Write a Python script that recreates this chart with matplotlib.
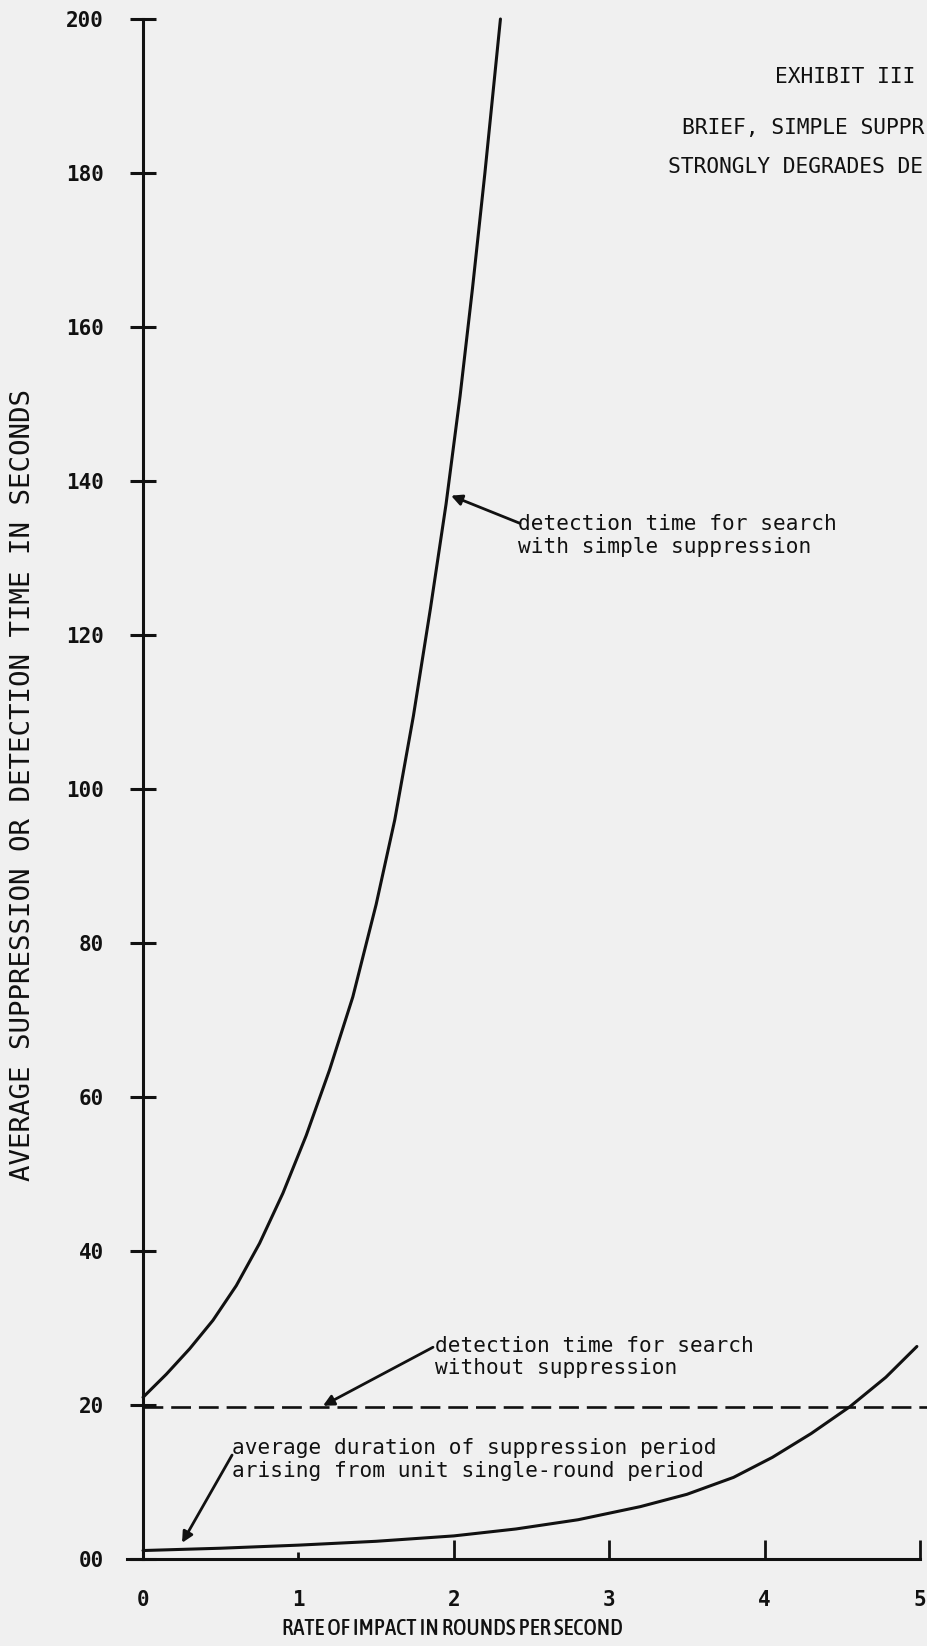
import matplotlib
matplotlib.use("Agg")
import matplotlib.pyplot as plt
from matplotlib import font_manager
from matplotlib.font_manager import FontProperties

# Detection time for search with simple suppression (seconds) vs rate of impact
rate_detect = [0.00, 0.15, 0.30, 0.45, 0.60, 0.75, 0.90, 1.05, 1.20, 1.35,
               1.50, 1.62, 1.74, 1.85, 1.95, 2.04, 2.12, 2.20, 2.26, 2.30]
time_detect = [21.0, 24.0, 27.3, 31.0, 35.5, 41.0, 47.5, 55.0, 63.5, 73.0,
               85.0, 96.0, 109.5, 123.5, 137.0, 151.0, 165.0, 180.0, 192.0, 200.0]

# Average duration of suppression period arising from unit single-round period
rate_supp = [0.00, 0.50, 1.00, 1.50, 2.00, 2.40, 2.80, 3.20, 3.50, 3.80,
             4.05, 4.30, 4.55, 4.78, 4.98]
time_supp = [1.1, 1.4, 1.8, 2.3, 3.0, 3.9, 5.1, 6.8, 8.4, 10.6,
             13.2, 16.3, 19.8, 23.6, 27.6]

# Detection time for search without suppression
rate_nosupp = [0.0, 5.05]
time_nosupp = [19.8, 19.8]

y_ticks = [0, 20, 40, 60, 80, 100, 120, 140, 160, 180, 200]
y_tick_labels = ["00", "20", "40", "60", "80", "100", "120", "140", "160", "180", "200"]
x_ticks = [0, 1, 2, 3, 4, 5]
x_tick_labels = ["0", "1", "2", "3", "4", "5"]

# Heading as it runs off the right edge of the page
title_lines = ["EXHIBIT III", "BRIEF, SIMPLE SUPPR", "STRONGLY DEGRADES DE"]

PAPER = "#f0f0f0"
INK = "#111111"
MONO = "DejaVu Sans Mono"


def pick_narrow_font():
    best = None
    weights = {"normal": 400, "regular": 400, "book": 400, "medium": 500,
               "semibold": 600, "demibold": 600, "bold": 700}
    for f in font_manager.fontManager.ttflist:
        stretch = str(f.stretch)
        narrow = ("Narrow" in f.name) or stretch in ("condensed", "semi-condensed", "extra-condensed")
        if not narrow or str(f.style) != "normal":
            continue
        w = f.weight if isinstance(f.weight, int) else weights.get(str(f.weight), 400)
        score = abs(w - 500) + (50 if stretch == "extra-condensed" else 0)
        if best is None or score < best[0]:
            best = (score, f.fname)
    if best is not None:
        return FontProperties(fname=best[1])
    return FontProperties(family="Roboto", weight="medium")


W, H = 928, 1646
fig = plt.figure(figsize=(W / 100, H / 100), dpi=100, facecolor=PAPER)
ax = fig.add_axes([127.5 / W, 1 - 1559 / H, 792.5 / W, 1540 / H])
ax.set_facecolor(PAPER)

ax.set_xlim(-0.1, 5.0)
ax.set_ylim(0, 200)

# Axis frame: y axis at x=0, x axis at y=0
for side in ("top", "right"):
    ax.spines[side].set_visible(False)
ax.spines["left"].set_position(("data", 0))
for side in ("left", "bottom"):
    ax.spines[side].set_linewidth(2.2)
    ax.spines[side].set_color(INK)

ax.set_yticks(y_ticks)
ax.set_yticklabels(y_tick_labels, fontfamily=MONO, fontweight="bold", fontsize=15)
ax.tick_params(axis="y", direction="inout", length=18.5, width=2.2, pad=19, colors=INK)

ax.set_xticks(x_ticks)
ax.set_xticklabels(x_tick_labels, fontfamily=MONO, fontweight="bold", fontsize=15)
ax.tick_params(axis="x", direction="in", length=14, width=2.0, pad=22, colors=INK)
xt = ax.xaxis.get_major_ticks()
xt[0].tick1line.set_visible(False)
xt[1].tick1line.set_markersize(5)

# Curves
ax.plot(rate_detect, time_detect, color=INK, lw=2.2, solid_capstyle="round",
        solid_joinstyle="round", clip_on=False)
ax.plot(rate_supp, time_supp, color=INK, lw=2.2, solid_capstyle="round",
        solid_joinstyle="round", clip_on=False)
ax.plot(rate_nosupp, time_nosupp, color=INK, lw=1.9, linestyle=(0, (7.5, 3.0)), clip_on=False)

# Annotations
arrow = dict(arrowstyle="-|>", color=INK, lw=2.0, mutation_scale=16, shrinkA=0, shrinkB=0)
txt = dict(fontfamily=MONO, fontsize=15.2, fontweight="medium", color=INK,
           ha="left", va="center", linespacing=1.15)

ax.annotate("", xy=(1.982, 138.1), xytext=(2.426, 134.5), arrowprops=arrow)
ax.text(2.413, 132.9, "detection time for search\nwith simple suppression", **txt)

ax.annotate("", xy=(1.158, 19.9), xytext=(1.866, 27.5), arrowprops=arrow)
ax.text(1.879, 26.2, "detection time for search\nwithout suppression", **txt)

ax.annotate("", xy=(0.251, 2.1), xytext=(0.573, 13.5), arrowprops=arrow)
ax.text(0.573, 12.9, "average duration of suppression period\narising from unit single-round period", **txt)

# Axis titles, sized to the lengths they run on the page
renderer = fig.canvas.get_renderer()

ylab = fig.text(23 / W, 1 - 785 / H, "AVERAGE SUPPRESSION OR DETECTION TIME IN SECONDS",
                rotation=90, ha="center", va="center", fontfamily=MONO, fontsize=16, color=INK)
ext = ylab.get_window_extent(renderer)
ylab.set_fontsize(16 * 790 / ext.height)

xfont = pick_narrow_font()
xfont.set_size(16)
xlab = fig.text(452 / W, 1 - 1629 / H, "RATE OF IMPACT IN ROUNDS PER SECOND",
                ha="center", va="center", fontproperties=xfont, color=INK)
ext = xlab.get_window_extent(renderer)
xlab.set_fontsize(min(19, 16 * 342 / ext.width))

# Exhibit heading
fig.text(775 / W, 1 - 77 / H, title_lines[0], ha="left", va="center",
         fontfamily=MONO, fontsize=15.3, fontweight="medium", color=INK)
fig.text(682 / W, 1 - 128 / H, title_lines[1], ha="left", va="center",
         fontfamily=MONO, fontsize=15.3, fontweight="medium", color=INK)
fig.text(668 / W, 1 - 167 / H, title_lines[2], ha="left", va="center",
         fontfamily=MONO, fontsize=15.3, fontweight="medium", color=INK)

fig.savefig("out.png", dpi=100, facecolor=PAPER)
